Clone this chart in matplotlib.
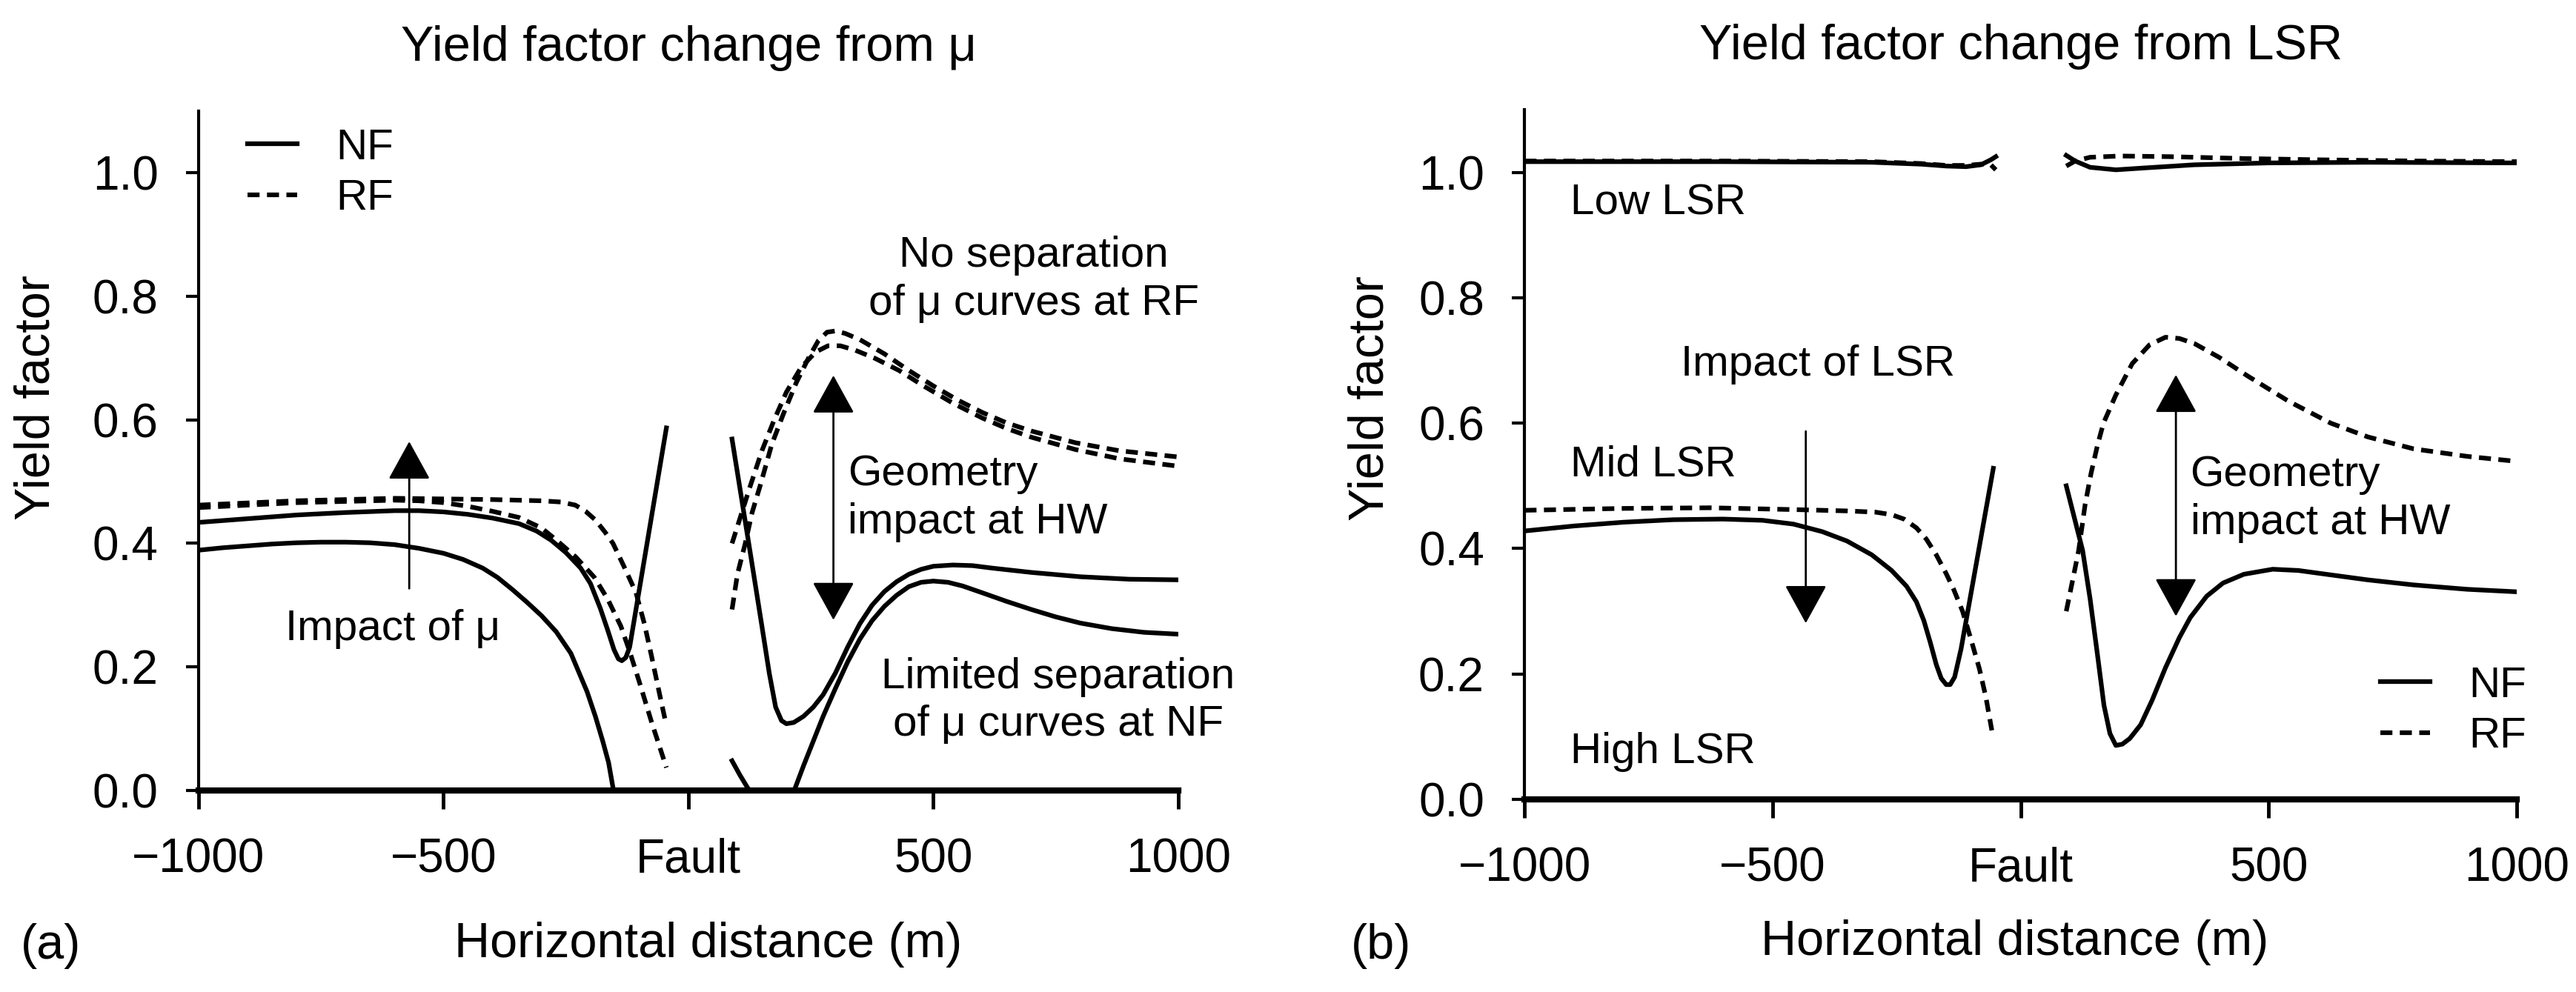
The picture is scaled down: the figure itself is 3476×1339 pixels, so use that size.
import matplotlib
matplotlib.use("Agg")
from matplotlib import pyplot as plt

plt.rcParams['font.family'] = ['Liberation Sans', 'DejaVu Sans']

# ---- panel (a): yield factor change from mu ----
a_nf_left_hi_x = [-1000, -900, -800, -700, -600, -550, -500, -450, -400, -346, -310, -280, -250, -220, -200, -180, -165, -152, -143, -136, -128, -120, -45]
a_nf_left_hi_y = [0.434, 0.440, 0.446, 0.450, 0.453, 0.453, 0.451, 0.447, 0.441, 0.432, 0.420, 0.405, 0.385, 0.360, 0.335, 0.295, 0.260, 0.228, 0.213, 0.210, 0.215, 0.232, 0.587]
a_nf_left_lo_x = [-1000, -950, -900, -850, -800, -750, -700, -650, -600, -550, -500, -460, -420, -390, -359, -330, -300, -270, -240, -207, -190, -175, -163, -153]
a_nf_left_lo_y = [0.389, 0.393, 0.396, 0.399, 0.401, 0.402, 0.402, 0.401, 0.398, 0.392, 0.384, 0.374, 0.360, 0.345, 0.325, 0.305, 0.283, 0.257, 0.222, 0.160, 0.120, 0.080, 0.045, 0.0]
a_rf_left_hi_x = [-1000, -800, -600, -400, -300, -260, -231, -210, -190, -170, -154, -130, -107, -90, -76, -60, -45]
a_rf_left_hi_y = [0.462, 0.469, 0.473, 0.471, 0.469, 0.467, 0.462, 0.452, 0.438, 0.418, 0.400, 0.360, 0.320, 0.270, 0.220, 0.160, 0.105]
a_rf_left_lo_x = [-1000, -800, -600, -550, -500, -450, -400, -346, -300, -269, -230, -192, -165, -138, -120, -100, -75, -45]
a_rf_left_lo_y = [0.458, 0.466, 0.470, 0.469, 0.466, 0.460, 0.452, 0.442, 0.425, 0.405, 0.378, 0.345, 0.310, 0.266, 0.225, 0.175, 0.110, 0.037]

a_nf_right_hi_x = [89, 110, 130, 150, 165, 178, 190, 200, 215, 235, 255, 275, 300, 325, 350, 375, 400, 425, 450, 475, 500, 540, 580, 620, 700, 800, 900, 1000]
a_nf_right_hi_y = [0.569, 0.465, 0.366, 0.266, 0.190, 0.135, 0.113, 0.108, 0.110, 0.120, 0.135, 0.155, 0.190, 0.232, 0.270, 0.300, 0.322, 0.338, 0.350, 0.358, 0.363, 0.365, 0.364, 0.360, 0.353, 0.346, 0.342, 0.341]
a_nf_right_lo_x = [89, 105, 124, 170, 216, 235, 255, 275, 300, 325, 350, 375, 400, 425, 450, 475, 500, 530, 560, 600, 650, 700, 750, 800, 864, 930, 1000]
a_nf_right_lo_y = [0.048, 0.025, 0.0, 0.0, 0.0, 0.040, 0.080, 0.120, 0.165, 0.208, 0.245, 0.275, 0.298, 0.316, 0.330, 0.337, 0.339, 0.337, 0.331, 0.320, 0.306, 0.293, 0.281, 0.271, 0.262, 0.256, 0.253]
a_rf_right_hi_x = [89, 100, 116, 130, 147, 170, 194, 220, 245, 265, 283, 300, 320, 350, 400, 450, 500, 550, 600, 650, 700, 790, 880, 1000]
a_rf_right_hi_y = [0.293, 0.350, 0.400, 0.450, 0.495, 0.560, 0.610, 0.660, 0.700, 0.728, 0.742, 0.744, 0.740, 0.730, 0.707, 0.680, 0.655, 0.632, 0.612, 0.595, 0.582, 0.563, 0.550, 0.540]
a_rf_right_lo_x = [89, 105, 125, 150, 175, 200, 230, 260, 285, 310, 340, 380, 430, 480, 540, 600, 650, 700, 790, 880, 1000]
a_rf_right_lo_y = [0.400, 0.440, 0.490, 0.550, 0.600, 0.645, 0.685, 0.710, 0.720, 0.720, 0.713, 0.700, 0.680, 0.655, 0.627, 0.603, 0.586, 0.572, 0.552, 0.537, 0.525]

# ---- panel (b): yield factor change from LSR ----
b_nf_mid_left_x = [-1000, -900, -800, -700, -600, -520, -458, -400, -350, -300, -260, -230, -210, -195, -182, -170, -160, -150, -142, -133, -120, -55]
b_nf_mid_left_y = [0.428, 0.436, 0.442, 0.446, 0.447, 0.445, 0.439, 0.427, 0.412, 0.390, 0.365, 0.340, 0.315, 0.285, 0.250, 0.215, 0.193, 0.183, 0.183, 0.195, 0.240, 0.528]
b_rf_mid_left_x = [-1000, -800, -625, -450, -350, -292, -260, -235, -210, -190, -170, -150, -135, -117, -100, -83, -70, -58]
b_rf_mid_left_y = [0.461, 0.464, 0.465, 0.462, 0.460, 0.458, 0.454, 0.447, 0.433, 0.415, 0.390, 0.360, 0.335, 0.300, 0.255, 0.208, 0.163, 0.110]
b_nf_mid_right_x = [92, 108, 125, 140, 155, 168, 180, 192, 205, 220, 242, 265, 292, 320, 342, 375, 408, 450, 508, 560, 625, 700, 792, 900, 1000]
b_nf_mid_right_y = [0.500, 0.450, 0.397, 0.320, 0.230, 0.150, 0.105, 0.086, 0.088, 0.097, 0.119, 0.158, 0.210, 0.258, 0.290, 0.324, 0.345, 0.359, 0.367, 0.365, 0.358, 0.350, 0.342, 0.335, 0.331]
b_rf_mid_right_x = [92, 105, 117, 130, 142, 155, 167, 192, 225, 260, 292, 320, 350, 400, 458, 540, 625, 700, 792, 900, 1000]
b_rf_mid_right_y = [0.300, 0.350, 0.397, 0.470, 0.520, 0.565, 0.600, 0.645, 0.695, 0.725, 0.737, 0.735, 0.727, 0.705, 0.675, 0.635, 0.600, 0.578, 0.559, 0.547, 0.539]

b_nf_low_left_x = [-1000, -600, -300, -200, -150, -110, -80, -60, -50]
b_nf_low_left_y = [1.017, 1.017, 1.016, 1.013, 1.010, 1.009, 1.012, 1.020, 1.025]
b_rf_low_left_x = [-1000, -600, -300, -200, -150, -110, -80, -60, -50]
b_rf_low_left_y = [1.018, 1.018, 1.017, 1.014, 1.011, 1.011, 1.013, 1.012, 1.004]
b_nf_low_right_x = [92, 110, 140, 192, 250, 350, 500, 700, 1000]
b_nf_low_right_y = [1.027, 1.018, 1.008, 1.004, 1.007, 1.012, 1.015, 1.016, 1.015]
b_rf_low_right_x = [92, 110, 140, 200, 300, 450, 600, 800, 1000]
b_rf_low_right_y = [1.010, 1.018, 1.024, 1.026, 1.025, 1.022, 1.020, 1.018, 1.017]

x_ticks = [-1000, -500, 0, 500, 1000]
x_tick_labels = ['\u22121000', '\u2212500', 'Fault', '500', '1000']
y_ticks = [0.0, 0.2, 0.4, 0.6, 0.8, 1.0]
y_tick_labels = ['0.0', '0.2', '0.4', '0.6', '0.8', '1.0']

LW = 4.5
DASH = (2.6, 1.6)
ANN = 42
ARROW = '-|>,head_length=1.0,head_width=0.55'
DARROW = '<|-|>,head_length=1.0,head_width=0.55'


def style_axes(ax):
    ax.set_xlim(-1000, 1000)
    ax.set_ylim(0, 1.1)
    ax.spines['top'].set_visible(False)
    ax.spines['right'].set_visible(False)
    ax.spines['left'].set_linewidth(3)
    ax.spines['bottom'].set_linewidth(6)
    ax.set_xticks(x_ticks)
    ax.set_xticklabels(x_tick_labels)
    ax.set_yticks(y_ticks)
    ax.set_yticklabels(y_tick_labels)
    ax.tick_params(axis='y', direction='out', length=12, width=3, pad=27, labelsize=46)
    ax.tick_params(axis='x', direction='out', length=18, width=3.5, pad=28, labelsize=46)


def solid(ax, x, y, label=None):
    return ax.plot(x, y, color='black', lw=LW, solid_joinstyle='round', label=label)[0]


def dashed(ax, x, y, label=None):
    return ax.plot(x, y, color='black', lw=LW, dashes=DASH, label=label)[0]


def arrow(ax, x, y0, y1, style=ARROW):
    ax.annotate('', xy=(x, y1), xytext=(x, y0),
                arrowprops=dict(arrowstyle=style, mutation_scale=33, lw=2,
                                color='black', shrinkA=0, shrinkB=0))


fig = plt.figure(figsize=(34.76, 13.39), dpi=100)
ax1 = fig.add_axes([0.0771, 0.2032, 0.3803, 0.6848])
ax2 = fig.add_axes([0.5918, 0.1942, 0.3852, 0.6953])

# panel a
style_axes(ax1)
nf1 = solid(ax1, a_nf_left_hi_x, a_nf_left_hi_y, 'NF')
solid(ax1, a_nf_left_lo_x, a_nf_left_lo_y)
rf1 = dashed(ax1, a_rf_left_hi_x, a_rf_left_hi_y, 'RF')
dashed(ax1, a_rf_left_lo_x, a_rf_left_lo_y)
solid(ax1, a_nf_right_hi_x, a_nf_right_hi_y)
solid(ax1, a_nf_right_lo_x, a_nf_right_lo_y)
dashed(ax1, a_rf_right_hi_x, a_rf_right_hi_y)
dashed(ax1, a_rf_right_lo_x, a_rf_right_lo_y)

arrow(ax1, -570, 0.327, 0.565)
arrow(ax1, 296, 0.276, 0.672, DARROW)
ax1.text(-603, 0.262, 'Impact of \u03bc', fontsize=ANN, ha='center', va='center')
ax1.text(325, 0.473, 'Geometry\nimpact at HW', fontsize=ANN, ha='left', va='center', linespacing=1.25)
ax1.text(705, 0.827, 'No separation\nof \u03bc curves at RF', fontsize=ANN, ha='center', va='center', linespacing=1.25)
ax1.text(755, 0.145, 'Limited separation\nof \u03bc curves at NF', fontsize=ANN, ha='center', va='center', linespacing=1.25)
ax1.legend(handles=[nf1, rf1], loc='upper left', bbox_to_anchor=(0.05, 0.975), frameon=False,
           fontsize=ANN, handlelength=1.15, handletextpad=0.9, labelspacing=0.25,
           borderaxespad=0, borderpad=0)

ax1.set_title('Yield factor change from \u03bc', fontsize=48, pad=49)
ax1.set_xlabel('Horizontal distance (m)', fontsize=48, va='center')
ax1.xaxis.set_label_coords(0.52, -0.227)
ax1.set_ylabel('Yield factor', fontsize=48, va='center')
ax1.yaxis.set_label_coords(-0.165, 0.578)
fig.text(0.008, 1 - 1277 / 1339, '(a)', fontsize=48, ha='left', va='center')

# panel b
style_axes(ax2)
nf2 = solid(ax2, b_nf_mid_left_x, b_nf_mid_left_y, 'NF')
rf2 = dashed(ax2, b_rf_mid_left_x, b_rf_mid_left_y, 'RF')
solid(ax2, b_nf_mid_right_x, b_nf_mid_right_y)
dashed(ax2, b_rf_mid_right_x, b_rf_mid_right_y)
solid(ax2, b_nf_low_left_x, b_nf_low_left_y)
dashed(ax2, b_rf_low_left_x, b_rf_low_left_y)
solid(ax2, b_nf_low_right_x, b_nf_low_right_y)
dashed(ax2, b_rf_low_right_x, b_rf_low_right_y)

arrow(ax2, -433, 0.587, 0.281)
arrow(ax2, 313, 0.292, 0.677, DARROW)
ax2.text(-908, 0.951, 'Low LSR', fontsize=ANN, ha='left', va='center')
ax2.text(-908, 0.533, 'Mid LSR', fontsize=ANN, ha='left', va='center')
ax2.text(-908, 0.075, 'High LSR', fontsize=ANN, ha='left', va='center')
ax2.text(-408, 0.693, 'Impact of LSR', fontsize=ANN, ha='center', va='center')
ax2.text(342, 0.479, 'Geometry\nimpact at HW', fontsize=ANN, ha='left', va='center', linespacing=1.25)
ax2.legend(handles=[nf2, rf2], loc='lower right', bbox_to_anchor=(1.01, 0.062), frameon=False,
           fontsize=ANN, handlelength=1.15, handletextpad=0.9, labelspacing=0.25,
           borderaxespad=0, borderpad=0)

ax2.set_title('Yield factor change from LSR', fontsize=48, pad=49)
ax2.set_xlabel('Horizontal distance (m)', fontsize=48, va='center')
ax2.xaxis.set_label_coords(0.494, -0.207)
ax2.set_ylabel('Yield factor', fontsize=48, va='center')
ax2.yaxis.set_label_coords(-0.155, 0.582)
fig.text(0.5245, 1 - 1277 / 1339, '(b)', fontsize=48, ha='left', va='center')

fig.savefig('out.png', dpi=100)
